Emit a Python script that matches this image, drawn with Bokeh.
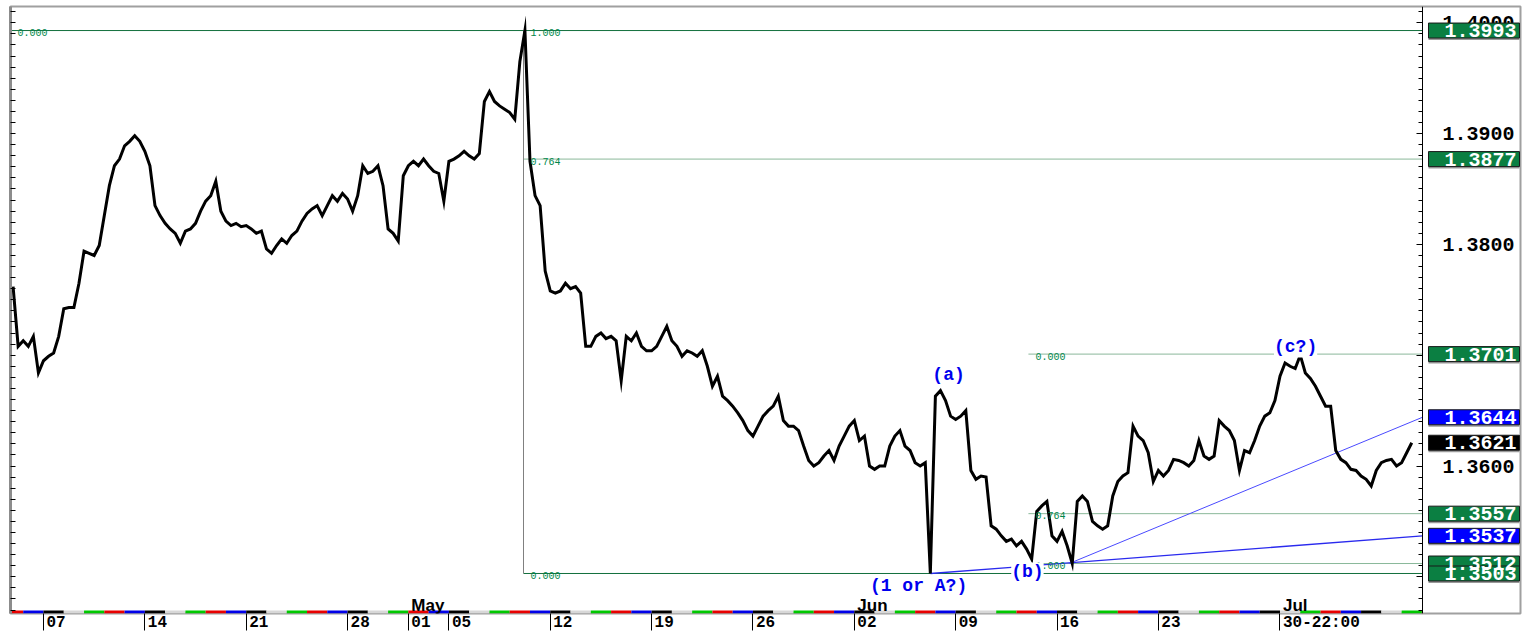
from bokeh.plotting import figure
from bokeh.models import (Range1d, LinearAxis, SingleIntervalTicker, FixedTicker,
                          PrintfTickFormatter, Label, ColumnDataSource)
from bokeh.core.properties import value
from bokeh.embed import file_html
from bokeh.resources import INLINE

# ---------------- data ----------------
# EUR/USD, 6-hour closes, x in trading days (0 = Mon 07 Apr 2014)
start_day = -1.5
step = 0.25
close = [
    1.3762, 1.3708,                      # Apr 3 (late)
    1.3713, 1.3708, 1.3717, 1.3684,      # Apr 4
    1.3695, 1.3699, 1.3702, 1.3717,      # Apr 7
    1.3742, 1.3743, 1.3743, 1.3765,      # Apr 8
    1.3794, 1.3792, 1.3790, 1.3799,      # Apr 9
    1.3826, 1.3853, 1.3871, 1.3877,      # Apr 10
    1.3889, 1.3893, 1.3898, 1.3893,      # Apr 11
    1.3884, 1.3871, 1.3835, 1.3826,      # Apr 14
    1.3819, 1.3814, 1.3810, 1.3801,      # Apr 15
    1.3812, 1.3814, 1.3819, 1.3830,      # Apr 16
    1.3839, 1.3844, 1.3857, 1.3830,      # Apr 17
    1.3821, 1.3817, 1.3819, 1.3816,      # Apr 18
    1.3817, 1.3814, 1.3810, 1.3812,      # Apr 21
    1.3796, 1.3792, 1.3799, 1.3805,      # Apr 22
    1.3801, 1.3808, 1.3812, 1.3821,      # Apr 23
    1.3828, 1.3832, 1.3835, 1.3826,      # Apr 24
    1.3835, 1.3844, 1.3839, 1.3846,      # Apr 25
    1.3841, 1.3830, 1.3844, 1.3871,      # Apr 28
    1.3864, 1.3866, 1.3871, 1.3853,      # Apr 29
    1.3814, 1.3810, 1.3803, 1.3862,      # Apr 30
    1.3871, 1.3875, 1.3871, 1.3877,      # May 1
    1.3871, 1.3866, 1.3864, 1.3839,      # May 2
    1.3875, 1.3877, 1.3880, 1.3884,      # May 5
    1.3880, 1.3877, 1.3882, 1.3929,      # May 6
    1.3938, 1.3929, 1.3925, 1.3922,      # May 7
    1.3919, 1.3913, 1.3965, 1.3993,      # May 8
    1.3875, 1.3844, 1.3835, 1.3776,      # May 9
    1.3758, 1.3756, 1.3758, 1.3765,      # May 12
    1.3760, 1.3762, 1.3756, 1.3708,      # May 13
    1.3708, 1.3717, 1.3720, 1.3715,      # May 14
    1.3717, 1.3713, 1.3677, 1.3717,      # May 15
    1.3713, 1.3720, 1.3708, 1.3704,      # May 16
    1.3704, 1.3708, 1.3717, 1.3726,      # May 19
    1.3713, 1.3708, 1.3699, 1.3704,      # May 20
    1.3702, 1.3699, 1.3704, 1.3690,      # May 21
    1.3672, 1.3681, 1.3663, 1.3659,      # May 22
    1.3654, 1.3648, 1.3641, 1.3632,      # May 23
    1.3627, 1.3636, 1.3645, 1.3650,      # May 26
    1.3654, 1.3663, 1.3641, 1.3636,      # May 27
    1.3636, 1.3632, 1.3618, 1.3605,      # May 28
    1.3600, 1.3603, 1.3609, 1.3614,      # May 29
    1.3605, 1.3618, 1.3627, 1.3636,      # May 30
    1.3641, 1.3623, 1.3627, 1.3600,      # Jun 2
    1.3597, 1.3600, 1.3600, 1.3618,      # Jun 3
    1.3627, 1.3632, 1.3618, 1.3614,      # Jun 4
    1.3603, 1.3600, 1.3603, 1.3503,      # Jun 5
    1.3663, 1.3668, 1.3659, 1.3645,      # Jun 6
    1.3642, 1.3645, 1.3650, 1.3596,      # Jun 9
    1.3588, 1.3591, 1.3590, 1.3546,      # Jun 10
    1.3543, 1.3537, 1.3532, 1.3534,      # Jun 11
    1.3528, 1.3532, 1.3525, 1.3516,      # Jun 12
    1.3559, 1.3564, 1.3568, 1.3537,      # Jun 13
    1.3532, 1.3541, 1.3528, 1.3512,      # Jun 16
    1.3568, 1.3573, 1.3568, 1.3550,      # Jun 17
    1.3546, 1.3543, 1.3546, 1.3573,      # Jun 18
    1.3586, 1.3591, 1.3594, 1.3636,      # Jun 19
    1.3627, 1.3623, 1.3612, 1.3586,      # Jun 20
    1.3596, 1.3591, 1.3596, 1.3606,      # Jun 23
    1.3605, 1.3603, 1.3600, 1.3605,      # Jun 24
    1.3623, 1.3609, 1.3606, 1.3609,      # Jun 25
    1.3641, 1.3636, 1.3632, 1.3623,      # Jun 26
    1.3596, 1.3614, 1.3612, 1.3623,      # Jun 27
    1.3636, 1.3645, 1.3648, 1.3659,      # Jun 30
    1.3681, 1.3693, 1.3690, 1.3688,      # Jul 1
    1.3700, 1.3684, 1.3679, 1.3672,      # Jul 2
    1.3663, 1.3654, 1.3654, 1.3614,      # Jul 3
    1.3606, 1.3603, 1.3597, 1.3596,      # Jul 4
    1.3591, 1.3588, 1.3582, 1.3596,      # Jul 7
    1.3603, 1.3605, 1.3606, 1.3600,      # Jul 8
    1.3603, 1.3612, 1.3621,              # Jul 9
]

tick_days = [0, 5, 10, 15, 18, 20, 25, 30, 35, 40, 45, 50, 55, 61]
tick_labels = ["07", "14", "21", "28", "01", "05", "12", "19", "26", "02", "09",
               "16", "23", "30-22:00"]
month_days = [18, 40, 61]
month_labels = ["May", "Jun", "Jul"]

fib_big_start = 23.68
fib_big_levels = [1.3993, 1.3877, 1.3503]
fib_big_ratios = ["1.000", "0.764", "0.000"]
fib_small_start = 48.59
fib_small_levels = [1.3701, 1.3557, 1.3512]
fib_small_ratios = ["0.000", "0.764", "1.000"]

trend_a_days = [43.76, 68.03]
trend_a_prices = [1.3503, 1.3537]
trend_b_days = [50.6, 68.03]
trend_b_prices = [1.3512, 1.3644]

wave_labels = ["(a)", "(c?)", "(1 or A?)", "(b)"]
wave_days = [44.65, 61.77, 43.17, 48.54]
wave_prices = [1.3682, 1.3707, 1.3492, 1.3504]

box_values = [1.3993, 1.3877, 1.3701, 1.3644, 1.3621, 1.3557, 1.3537, 1.3512, 1.3503]
box_kinds = ["fib", "fib", "fib", "trend", "last", "fib", "trend", "fib", "fib"]

# ---------------- layout constants ----------------
X0, X1 = -1.628, 72.865         # full frame (chart + price panel)
CHART_END = 68.03               # right edge of the price area
Y0, Y1 = 1.34669, 1.40147
FRAME_W, FRAME_H = 1510, 607
PX_DAY = FRAME_W / (X1 - X0)
PX_PRICE = FRAME_H / (Y1 - Y0)

days = [start_day + step * i for i in range(len(close))]

p = figure(width=1526, height=636, output_backend="svg", toolbar_location=None,
           x_range=Range1d(X0, X1), y_range=Range1d(Y0, Y1),
           x_axis_location=None, y_axis_location=None,
           min_border_left=10, min_border_right=6, min_border_top=6, min_border_bottom=23,
           background_fill_color="white", border_fill_color="white")
p.outline_line_color = "#a0a0a0"
p.outline_line_width = 2
p.xgrid.grid_line_color = None
p.ygrid.grid_line_color = None

# left border axis (ticks only, no labels)
left_ticks = [round(1.346 + 0.001 * i, 3) for i in range(57)]
yl = LinearAxis(ticker=FixedTicker(ticks=[], minor_ticks=left_ticks),
                axis_line_color="#8c8c8c", axis_line_width=3,
                major_tick_in=0, major_tick_out=0, minor_tick_in=5, minor_tick_out=0,
                minor_tick_line_color="black", major_label_standoff=0)
p.add_layout(yl, "left")

# price axis at the right edge of the chart area
yr = LinearAxis(fixed_location=CHART_END,
                ticker=SingleIntervalTicker(interval=0.01, num_minor_ticks=10),
                formatter=PrintfTickFormatter(format="%.4f"),
                axis_line_color="black", axis_line_width=1,
                major_tick_in=6, major_tick_out=0, minor_tick_in=4, minor_tick_out=0,
                major_tick_line_color="black", minor_tick_line_color="black",
                major_label_standoff=20, major_label_text_font="Liberation Mono",
                major_label_text_font_style="bold", major_label_text_font_size="20px",
                major_label_text_color="black")
p.add_layout(yr, "right")

# date axis: tick marks at the dates, labels just right of them
CHAR_W = 9.6
centers = [round(d + (3 + len(l) * CHAR_W / 2) / PX_DAY, 4) for d, l in zip(tick_days, tick_labels)]
xb = LinearAxis(ticker=FixedTicker(ticks=centers, minor_ticks=tick_days),
                major_label_overrides={c: l for c, l in zip(centers, tick_labels)},
                major_tick_in=0, major_tick_out=0, minor_tick_in=0, minor_tick_out=17,
                minor_tick_line_color="black", minor_tick_line_width=1,
                axis_line_color=None, major_label_standoff=-17,
                major_label_text_font="Liberation Mono", major_label_text_font_style="bold",
                major_label_text_font_size="16px", major_label_text_color="black")
p.add_layout(xb, "below")

# weekday colour strip
wd_colors = ["#000000", "#d8d8d8", "#00c800", "#e80000", "#0000e8"]
strip_left = list(range(-2, 69))
strip_right = [min(d + 1, CHART_END) for d in strip_left]
strip_col = [wd_colors[d % 5] for d in strip_left]
strip_h = 3 / PX_PRICE
p.quad(left=strip_left, right=strip_right, bottom=Y0, top=Y0 + strip_h,
       fill_color=strip_col, line_color=None)

# month labels
p.text(x=[d + 3 / PX_DAY for d in month_days], y=[Y0 + 8 / PX_PRICE] * 3, text=month_labels,
       text_font=value("Liberation Sans"), text_font_style="bold", text_font_size="17px",
       text_color="black", text_align="left", text_baseline="alphabetic")

# fibonacci lines
FIB_DARK = "#13703d"
FIB_LIGHT = "#8ab89a"
FIB_TEXT = "#00874a"
p.segment(x0=[X0], x1=[fib_big_start], y0=[fib_big_levels[0]], y1=[fib_big_levels[0]],
          line_color=FIB_DARK, line_width=1)
p.segment(x0=[fib_big_start] * 3, x1=[CHART_END] * 3, y0=fib_big_levels, y1=fib_big_levels,
          line_color=[FIB_DARK, FIB_LIGHT, FIB_DARK], line_width=1)
p.segment(x0=[fib_big_start], x1=[fib_big_start], y0=[min(fib_big_levels)], y1=[max(fib_big_levels)],
          line_color="#808080", line_width=1)
p.segment(x0=[fib_small_start] * 3, x1=[CHART_END] * 3, y0=fib_small_levels, y1=fib_small_levels,
          line_color=FIB_LIGHT, line_width=1)

# trend lines
p.line(trend_a_days, trend_a_prices, line_color="#2a2aee", line_width=1.3)
p.line(trend_b_days, trend_b_prices, line_color="#4a4aff", line_width=1)

# price
p.line(days, close, line_color="black", line_width=3, line_join="miter")

# fib ratio labels
def fib_label(x, y, t):
    p.add_layout(Label(x=x, y=y, text=t, text_font="Liberation Mono", text_font_size="10px",
                       text_color=FIB_TEXT, text_baseline="middle", y_offset=-2))

fib_label(X0 + 7 / PX_DAY, fib_big_levels[0], "0.000")
for lv, r in zip(fib_big_levels, fib_big_ratios):
    fib_label(fib_big_start + 7 / PX_DAY, lv, r)
for lv, r in zip(fib_small_levels, fib_small_ratios):
    fib_label(fib_small_start + 7 / PX_DAY, lv, r)

# wave labels
for t, d, pr in zip(wave_labels, wave_days, wave_prices):
    p.add_layout(Label(x=d, y=pr, text=t, text_font="Liberation Mono", text_font_style="bold",
                       text_font_size="18px", text_color="#0000ee", text_align="center",
                       text_baseline="middle", background_fill_color="white"))

# price boxes in the right panel
kind_fill = {"fib": "#0b7f42", "trend": "#0000ff", "last": "#000000"}
box_h = 15 / PX_PRICE
box_left = CHART_END + 6 / PX_DAY
box_right = CHART_END + 97 / PX_DAY
src = ColumnDataSource(dict(
    y=box_values,
    bottom=[v - box_h / 2 for v in box_values],
    top=[v + box_h / 2 for v in box_values],
    sb=[v - box_h / 2 - 2 / PX_PRICE for v in box_values],
    fill=[kind_fill[k] for k in box_kinds],
    text=[f"{v:.4f}" for v in box_values],
))
r0 = p.quad(left=box_left, right=box_right, bottom="sb", top="bottom", source=src,
            fill_color="#9a9a9a", line_color=None)
r1 = p.quad(left=box_left, right=box_right, bottom="bottom", top="top", source=src,
            fill_color="fill", line_color="#1a1a1a", line_width=1)
r2 = p.text(x=CHART_END + 94 / PX_DAY, y="y", text="text", source=src,
            text_font=value("Liberation Mono"), text_font_style="bold", text_font_size="20px",
            text_color="white", text_align="right", text_baseline="middle")
for r in (r0, r1, r2):
    r.level = "overlay"

open("out.html", "w").write(file_html(p, INLINE))
